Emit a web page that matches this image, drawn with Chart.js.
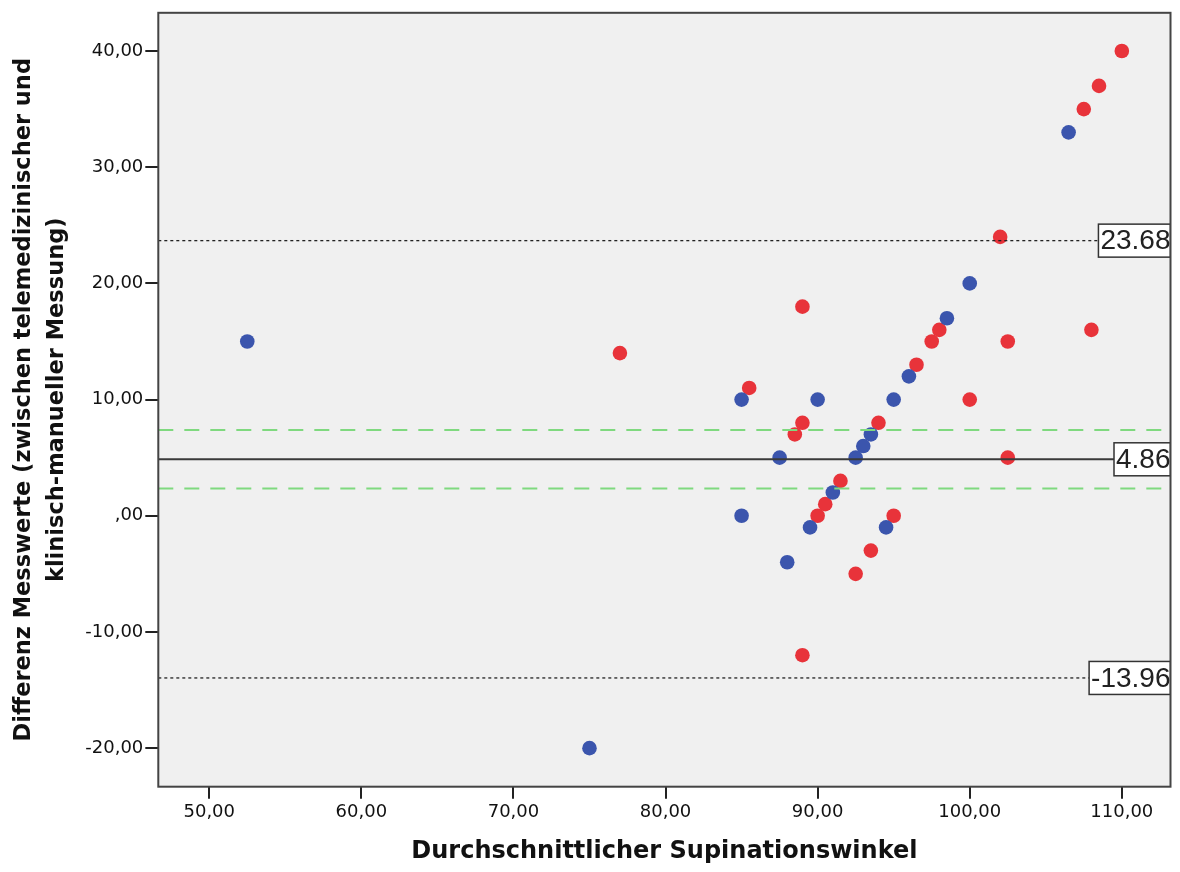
<!DOCTYPE html>
<html>
<head>
<meta charset="utf-8">
<script src="https://cdn.jsdelivr.net/npm/chart.js@4.4.1/dist/chart.umd.min.js"></script>
<style>
  body { margin: 0; background: #fff; }
  #wrap { width: 1180px; height: 872px; }
</style>
</head>
<body>
<div id="wrap"><canvas id="ba" width="1180" height="872"></canvas></div>
<script>
// Bland-Altman Daten
const blueX = [52.5, 75, 85, 85, 87.5, 88, 89.5, 90, 91, 92.5, 93, 93.5, 94.5, 95, 96, 98.5, 100, 106.5];
const blueY = [15, -20, 10, 0, 5, -4, -1, 10, 2, 5, 6, 7, -1, 10, 12, 17, 20, 33];
const redX = [77, 85.5, 88.5, 89, 89, 89, 90, 90.5, 91.5, 92.5, 93.5, 94, 95, 96.5, 97.5, 98, 100, 102, 102.5, 102.5, 107.5, 108, 108.5, 110];
const redY = [14, 11, 7, 8, 18, -12, 0, 1, 3, -5, -3, 8, 0, 13, 15, 16, 10, 24, 15, 5, 35, 16, 37, 40];

const meanDiff = 4.86;
const upperLoA = 23.68;
const lowerLoA = -13.96;
const ciUpper = 7.38;
const ciLower = 2.34;

const xTicks = [50, 60, 70, 80, 90, 100, 110];
const yTicks = [-20, -10, 0, 10, 20, 30, 40];
const xMin = 46.65, xMax = 113.2;
const yMin = -23.32, yMax = 43.29;

const refLabels = [upperLoA, meanDiff, lowerLoA];

function toPoints(xs, ys) {
  return xs.map((x, i) => ({ x: x, y: ys[i] }));
}
function hline(v) {
  return [{ x: xMin, y: v }, { x: xMax, y: v }];
}
function fmt(v) {
  let s = Math.abs(v).toFixed(2).replace('.', ',');
  if (s.startsWith('0')) s = s.slice(1);
  return (v < 0 ? '-' : '') + s;
}

const frame = {
  id: 'frame',
  beforeDraw(chart) {
    const a = chart.chartArea, ctx = chart.ctx;
    ctx.save();
    ctx.fillStyle = '#f0f0f0';
    ctx.fillRect(a.left, a.top, a.right - a.left, a.bottom - a.top);
    ctx.restore();
  },
  afterDatasetsDraw(chart) {
    const a = chart.chartArea, ctx = chart.ctx;
    const ys = chart.scales.y;
    ctx.save();
    ctx.beginPath();
    ctx.rect(a.left, a.top, a.right - a.left, a.bottom - a.top);
    ctx.clip();
    ctx.font = '28px "Liberation Sans", Arial, sans-serif';
    ctx.textBaseline = 'middle';
    refLabels.forEach(v => {
      const t = v.toFixed(2);
      const w = ctx.measureText(t).width;
      const y = ys.getPixelForValue(v);
      const left = a.right - w - 2;
      ctx.fillStyle = '#fff';
      ctx.fillRect(left, y - 16.5, a.right - left, 33);
      ctx.strokeStyle = '#333';
      ctx.lineWidth = 1.5;
      ctx.strokeRect(left, y - 16.5, a.right - left, 33);
      ctx.fillStyle = '#222';
      ctx.fillText(t, left + 2, y + 1);
    });
    ctx.restore();
  },
  afterDraw(chart) {
    const a = chart.chartArea, ctx = chart.ctx;
    ctx.save();
    ctx.strokeStyle = '#444';
    ctx.lineWidth = 2;
    ctx.strokeRect(a.left, a.top, a.right - a.left, a.bottom - a.top);
    ctx.restore();
  }
};

new Chart(document.getElementById('ba'), {
  type: 'scatter',
  data: {
    datasets: [
      { type: 'line', data: hline(meanDiff), borderColor: '#3a3a3a', borderWidth: 2, pointRadius: 0, order: 0 },
      { type: 'line', data: hline(upperLoA), borderColor: '#222', borderWidth: 1.3, borderDash: [3, 3], pointRadius: 0, order: 0 },
      { type: 'line', data: hline(lowerLoA), borderColor: '#222', borderWidth: 1.3, borderDash: [3, 3], pointRadius: 0, order: 0 },
      { type: 'line', data: hline(ciUpper), borderColor: '#7fd97f', borderWidth: 2, borderDash: [15, 11], pointRadius: 0, order: 0 },
      { type: 'line', data: hline(ciLower), borderColor: '#7fd97f', borderWidth: 2, borderDash: [15, 11], pointRadius: 0, order: 0 },
      { data: toPoints(blueX, blueY), backgroundColor: '#3b55ad', borderWidth: 0, pointRadius: 7.3, order: 1 },
      { data: toPoints(redX, redY), backgroundColor: '#e8333a', borderWidth: 0, pointRadius: 7.3, order: 1 }
    ]
  },
  options: {
    responsive: false,
    animation: false,
    devicePixelRatio: 1,
    layout: { padding: { left: 0, right: 9.5, top: 11, bottom: 0 } },
    plugins: { legend: { display: false }, tooltip: { enabled: false } },
    scales: {
      x: {
        type: 'linear',
        min: xMin,
        max: xMax,
        afterBuildTicks: s => { s.ticks = xTicks.map(v => ({ value: v })); },
        afterFit: s => { s.height = 85.3; },
        grid: { drawOnChartArea: false, drawTicks: true, tickLength: 12, color: '#222', lineWidth: 2 },
        border: { display: false },
        ticks: {
          callback: v => fmt(v),
          font: { family: '"DejaVu Sans", sans-serif', size: 18 },
          color: '#111',
          padding: 3,
          maxRotation: 0
        },
        title: {
          display: true,
          text: 'Durchschnittlicher Supinationswinkel',
          font: { family: '"DejaVu Sans", sans-serif', size: 24, weight: 'bold', lineHeight: 1.2 },
          color: '#111',
          padding: { top: 0, bottom: 5.6 }
        }
      },
      y: {
        type: 'linear',
        min: yMin,
        max: yMax,
        afterBuildTicks: s => { s.ticks = yTicks.map(v => ({ value: v })); },
        afterFit: s => { s.width = 158.3; },
        grid: { drawOnChartArea: false, drawTicks: true, tickLength: 13, color: '#222', lineWidth: 2 },
        border: { display: false },
        ticks: {
          callback: v => fmt(v),
          font: { family: '"DejaVu Sans", sans-serif', size: 18 },
          color: '#111',
          padding: 2
        },
        title: {
          display: true,
          text: ['Differenz Messwerte (zwischen telemedizinischer und', 'klinisch-manueller Messung)'],
          font: { family: '"DejaVu Sans", sans-serif', size: 22.5, weight: 'bold', lineHeight: 1.45 },
          color: '#111',
          padding: { top: 8, bottom: 0 }
        }
      }
    }
  },
  plugins: [frame]
});
</script>
</body>
</html>
